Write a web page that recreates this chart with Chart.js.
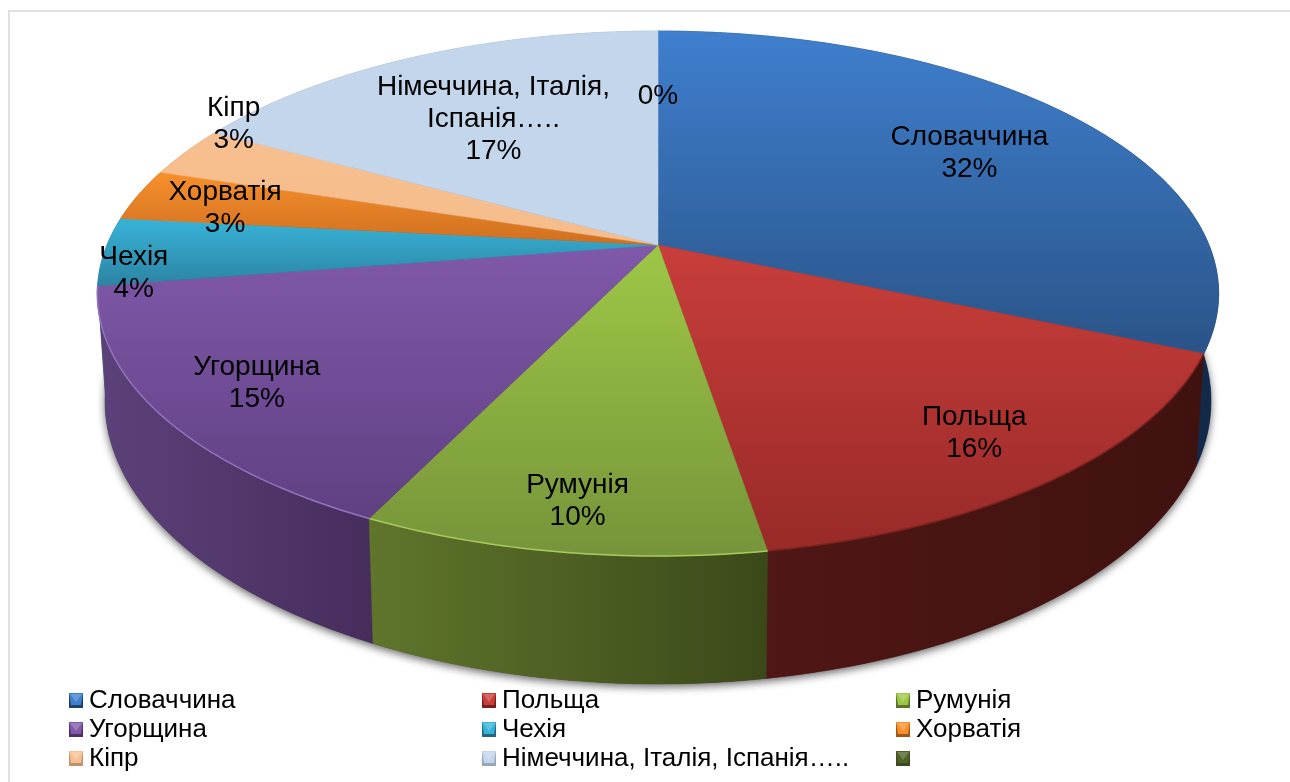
<!DOCTYPE html>
<html>
<head>
<meta charset="utf-8">
<title>Pie</title>
<script src="https://cdn.jsdelivr.net/npm/chart.js@4/dist/chart.umd.min.js"></script>
<style>
  html, body { margin: 0; padding: 0; background: #fff; overflow: hidden; }
  #wrap { position: relative; width: 1290px; height: 782px; }
  #frame { position: absolute; left: 8px; top: 10px; right: 0; bottom: 0; border-left: 2px solid #e0e0e0; border-top: 2px solid #e0e0e0; }
  canvas { position: absolute; left: 0; top: 0; }
</style>
</head>
<body>
<div id="wrap">
  <div id="frame"></div>
  <canvas id="chart" width="1290" height="782"></canvas>
</div>
<script>
const CATEGORIES = ['Словаччина', 'Польща', 'Румунія', 'Угорщина', 'Чехія', 'Хорватія', 'Кіпр', 'Німеччина, Італія, Іспанія…..', ''];
const VALUES = [31.5, 15.9, 9.8, 15.3, 4.2, 3.2, 3.1, 17.0, 0];

const TOP_COLORS = ['#3f7fce', '#c93e3b', '#9ec746', '#8059aa', '#37b3d8', '#f7902c', '#f7bf8f', '#c3d6ec', '#4f6228'];
const LOW_COLORS = ['#2a5488', '#982a28', '#76943a', '#604082', '#2c84a3', '#cf6f20', '#f6bc8b', '#c3d6ec', '#4f6228'];
const WALL_LEFT = ['#122a4c', '#4f1715', '#5f752c', '#5b4179', '#1f6f88', '#a85a18', '#c89a70', '#8fa3bd', '#3c4a1a'];
const WALL_RIGHT = ['#12294a', '#40120f', '#3b4919', '#472d5c', '#1f6f88', '#a85a18', '#c89a70', '#8fa3bd', '#3c4a1a'];
const RIM_COLORS = [null, '#7c2320', '#a9cb5c', '#9274bd', null, null, null, null, null];

// where the label sits: fraction across the slice, and fraction of the radius
const LABEL_ALONG = [0.5, 0.5, 0.5, 0.5, 0.18, 0.43, 1.3, 0.5, 0.5];
const LABEL_RADIUS = [0.726, 0.821, 0.855, 0.824, 0.939, 0.824, 0.999, 0.647, 0.67];

const LEGEND_COLUMNS = [69, 482, 896];
const LEGEND_ROWS = [700, 729, 758];

const TOP_FACE = { x: 658, y: 245, a: 551, b: 253.5 };
const BOTTOM_FACE = { x: 658, y: 348.7, a: 543.5, b: 273.3 };
const TILT = 0.1848;
const FONT = '"Liberation Sans", Arial, sans-serif';

// the pie is leaning back, so a point on the disc goes through a perspective divide
function project(face, angle, r){
    var u = Math.cos(angle) * r;
    var v = Math.sin(angle) * r;
    var d = 1 - TILT * v;
    return { x: face.x + face.a * u / d, y: face.y + face.b * v / d };
}

function arcPoints(face, start, end){
    var steps = Math.max(2, Math.ceil((end - start) * 60));
    var pts = [];
    for(var i = 0; i <= steps; i++){
        pts.push(project(face, start + (end - start) * i / steps, 1));
    }
    return pts;
}

function trace(ctx, pts){
    pts.forEach((p, i) => i ? ctx.lineTo(p.x, p.y) : ctx.moveTo(p.x, p.y));
}

function drawWalls(ctx, arcs){
    // soft shadow under the whole disc
    ctx.save();
    ctx.shadowColor = 'rgba(0,0,0,0.6)';
    ctx.shadowBlur = 8;
    ctx.shadowOffsetY = 3;
    ctx.fillStyle = '#333';
    ctx.beginPath();
    trace(ctx, arcPoints(BOTTOM_FACE, 0, Math.PI * 2));
    ctx.closePath();
    ctx.fill();
    ctx.restore();

    var order = arcs.map((a, i) => i).filter(i => arcs[i].endAngle > arcs[i].startAngle);
    order.sort((p, q) => Math.sin((arcs[p].startAngle + arcs[p].endAngle) / 2) - Math.sin((arcs[q].startAngle + arcs[q].endAngle) / 2));
    order.forEach(i => {
        var top = arcPoints(TOP_FACE, arcs[i].startAngle, arcs[i].endAngle);
        var low = arcPoints(BOTTOM_FACE, arcs[i].startAngle, arcs[i].endAngle).reverse();
        var xs = low.map(p => p.x);
        var left = Math.min.apply(null, xs), right = Math.max.apply(null, xs);
        var g = ctx.createLinearGradient(left, 0, right, 0);
        g.addColorStop(0, WALL_LEFT[i]);
        g.addColorStop(1, WALL_RIGHT[i]);
        ctx.fillStyle = g;
        ctx.strokeStyle = g;
        ctx.lineWidth = 0.5;
        ctx.beginPath();
        trace(ctx, top.concat(low));
        ctx.closePath();
        ctx.fill();
        ctx.stroke();
    });
}

function drawFaces(ctx, arcs){
    arcs.forEach((arc, i) => {
        if(arc.endAngle <= arc.startAngle) return;
        var rim = arcPoints(TOP_FACE, arc.startAngle, arc.endAngle);
        var apex = { x: TOP_FACE.x, y: TOP_FACE.y };
        var ys = rim.map(p => p.y).concat(apex.y);
        var g = ctx.createLinearGradient(0, Math.min.apply(null, ys), 0, Math.max.apply(null, ys));
        g.addColorStop(0, TOP_COLORS[i]);
        g.addColorStop(1, LOW_COLORS[i]);
        ctx.fillStyle = g;
        ctx.strokeStyle = g;
        ctx.lineWidth = 0.5;
        ctx.beginPath();
        trace(ctx, [apex].concat(rim));
        ctx.closePath();
        ctx.fill();
        ctx.stroke();
        if(RIM_COLORS[i]){
            ctx.strokeStyle = RIM_COLORS[i];
            ctx.lineWidth = 1.5;
            ctx.beginPath();
            trace(ctx, rim);
            ctx.stroke();
        }
    });
}

function wrapLabel(ctx, text, maxWidth){
    var lines = [], line = '';
    text.split(' ').forEach(word => {
        var next = line ? line + ' ' + word : word;
        if(line && ctx.measureText(next).width > maxWidth){
            lines.push(line);
            line = word;
        } else {
            line = next;
        }
    });
    if(line) lines.push(line);
    return lines;
}

function drawLabels(ctx, arcs){
    var total = VALUES.reduce((s, v) => s + v, 0);
    ctx.font = '28px ' + FONT;
    ctx.fillStyle = '#000';
    ctx.textAlign = 'center';
    ctx.textBaseline = 'middle';
    arcs.forEach((arc, i) => {
        var angle = arc.startAngle + (arc.endAngle - arc.startAngle) * LABEL_ALONG[i];
        var spot = project(TOP_FACE, angle, LABEL_RADIUS[i]);
        var lines = wrapLabel(ctx, CATEGORIES[i], 250);
        lines.push(Math.round(VALUES[i] / total * 100) + '%');
        lines.forEach((line, n) => {
            ctx.fillText(line, spot.x, spot.y + 2 + (n - (lines.length - 1) / 2) * 32);
        });
    });
}

function drawMarker(ctx, x, y, i){
    var w = 14, h = 15;
    ctx.fillStyle = LOW_COLORS[i];
    ctx.fillRect(x, y, w, h);
    ctx.fillStyle = 'rgba(0,0,0,0.22)';
    ctx.fillRect(x, y, w, h);
    // bevel: bright wedge from the top edge, darker lip along the bottom
    ctx.fillStyle = TOP_COLORS[i];
    ctx.beginPath();
    ctx.moveTo(x, y);
    ctx.lineTo(x + w, y);
    ctx.lineTo(x + w - 2, y + h - 3);
    ctx.lineTo(x + 2, y + h - 3);
    ctx.closePath();
    ctx.fill();
    ctx.fillStyle = 'rgba(255,255,255,0.22)';
    ctx.beginPath();
    ctx.moveTo(x + 1, y + 1);
    ctx.lineTo(x + w - 1, y + 1);
    ctx.lineTo(x + w / 2, y + h * 0.6);
    ctx.closePath();
    ctx.fill();
}

function drawLegend(ctx){
    ctx.font = '26px ' + FONT;
    ctx.textAlign = 'left';
    ctx.textBaseline = 'middle';
    CATEGORIES.forEach((name, i) => {
        var x = LEGEND_COLUMNS[i % 3];
        var y = LEGEND_ROWS[Math.floor(i / 3)];
        drawMarker(ctx, x, y - 7, i);
        ctx.fillStyle = '#000';
        ctx.fillText(name, x + 20, y + 1);
    });
}

const pie3d = {
    id: 'pie3d',
    beforeDatasetDraw(chart, args){
        // arcs keep the angles chart.js worked out, only the drawing is swapped
        var ctx = chart.ctx;
        var arcs = args.meta.data;
        ctx.save();
        drawWalls(ctx, arcs);
        drawFaces(ctx, arcs);
        drawLabels(ctx, arcs);
        drawLegend(ctx);
        ctx.restore();
        return false;
    }
};

new Chart(document.getElementById('chart'), {
    type: 'pie',
    data: {
        labels: CATEGORIES,
        datasets: [{ data: VALUES, backgroundColor: TOP_COLORS, borderWidth: 0 }]
    },
    options: {
        responsive: false,
        animation: false,
        plugins: { legend: { display: false }, tooltip: { enabled: false } }
    },
    plugins: [pie3d]
});
</script>
</body>
</html>
